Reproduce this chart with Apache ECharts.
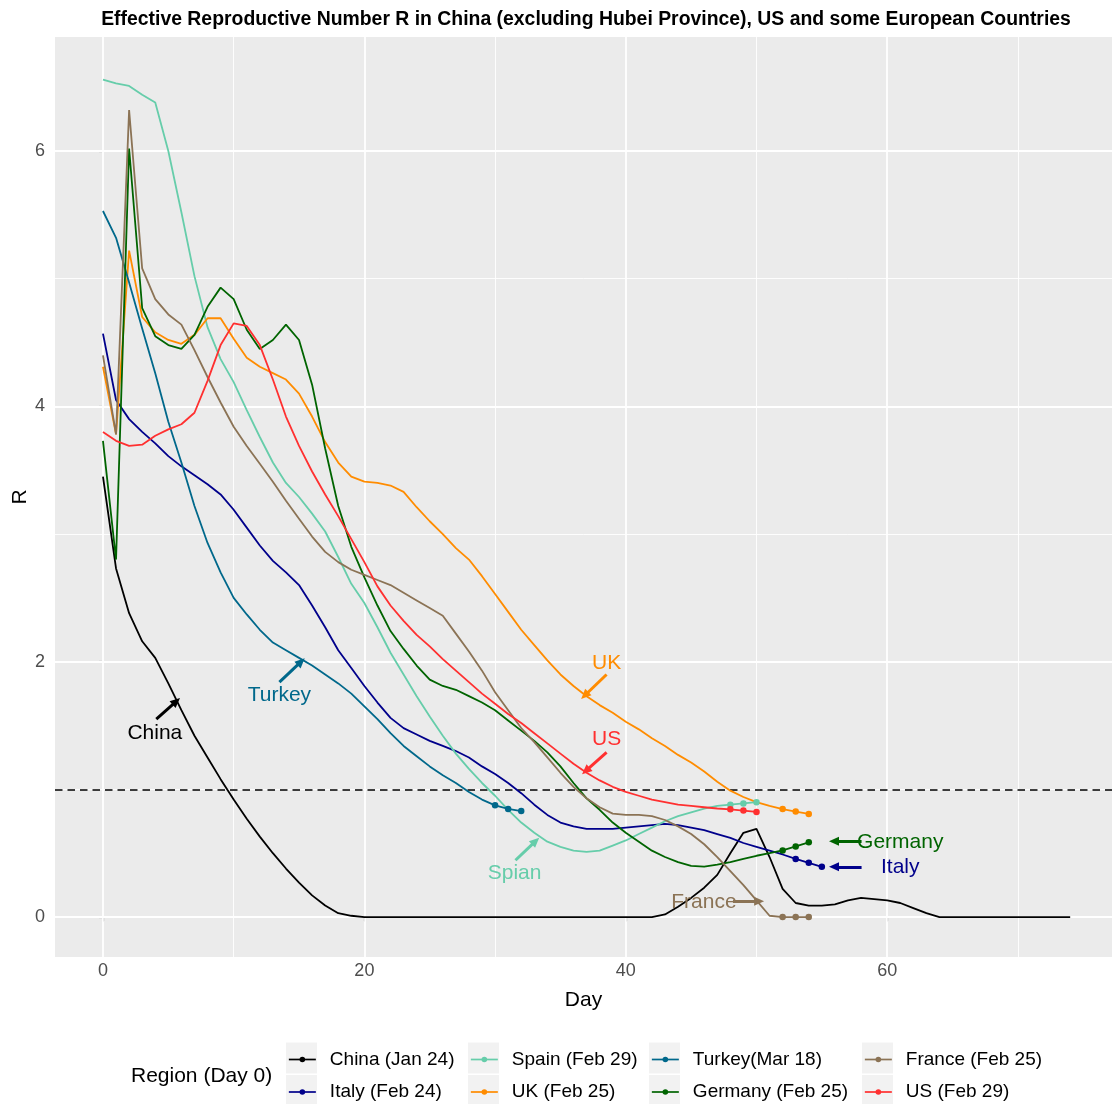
<!DOCTYPE html>
<html><head><meta charset="utf-8">
<script src="https://cdn.jsdelivr.net/npm/echarts@6/dist/echarts.min.js"></script>
<style>html,body{margin:0;padding:0;background:#fff}#c{width:1112px;height:1104px}</style>
</head><body><div id="c"></div><script>
// ---- data (index = Day) ----
const china = [3.45,2.73,2.38,2.16,2.03,1.83,1.62,1.42,1.25,1.08,
  0.92,0.77,0.63,0.50,0.38,0.27,0.17,0.09,0.03,0.01,
  0,0,0,0,0,0,0,0,0,0,
  0,0,0,0,0,0,0,0,0,0,
  0,0,0,0.02,0.08,0.15,0.23,0.33,0.50,0.66,
  0.69,0.47,0.22,0.11,0.09,0.09,0.10,0.13,0.15,0.14,
  0.13,0.11,0.07,0.03,0,0,0,0,0,0,
  0,0,0,0,0];
const italy = [4.57,4.05,3.90,3.80,3.71,3.61,3.53,3.46,3.39,3.31,
  3.19,3.05,2.91,2.79,2.70,2.60,2.44,2.27,2.09,1.95,
  1.81,1.68,1.56,1.48,1.43,1.38,1.34,1.30,1.25,1.18,
  1.12,1.05,0.97,0.88,0.80,0.74,0.71,0.69,0.69,0.69,
  0.70,0.71,0.72,0.73,0.72,0.70,0.68,0.65,0.62,0.58,
  0.55,0.52,0.49,0.455,0.425,0.393];
const spain = [6.56,6.53,6.51,6.44,6.38,6.00,5.52,5.02,4.62,4.37,
  4.19,3.97,3.76,3.56,3.40,3.29,3.16,3.02,2.82,2.61,
  2.46,2.27,2.07,1.90,1.73,1.57,1.42,1.28,1.16,1.05,
  0.95,0.84,0.74,0.66,0.59,0.55,0.52,0.51,0.52,0.56,
  0.60,0.65,0.70,0.75,0.79,0.82,0.85,0.87,0.88,0.89,0.90];
const uk = [4.31,3.78,5.22,4.70,4.58,4.52,4.49,4.56,4.69,4.69,
  4.53,4.38,4.31,4.26,4.21,4.10,3.92,3.72,3.56,3.45,
  3.41,3.40,3.38,3.33,3.21,3.10,3.00,2.89,2.80,2.67,
  2.53,2.39,2.25,2.13,2.01,1.90,1.81,1.73,1.66,1.60,
  1.53,1.47,1.40,1.34,1.27,1.21,1.14,1.06,0.99,0.94,
  0.90,0.87,0.846,0.826,0.808];
const turkey = [5.53,5.32,4.97,4.61,4.26,3.88,3.56,3.22,2.93,2.70,
  2.50,2.37,2.25,2.15,2.09,2.03,1.97,1.90,1.83,1.75,
  1.65,1.55,1.44,1.34,1.26,1.18,1.11,1.05,0.98,0.92,
  0.875,0.847,0.83];
const germany = [3.73,2.80,6.02,4.77,4.55,4.48,4.45,4.56,4.78,4.93,
  4.84,4.60,4.45,4.52,4.64,4.52,4.17,3.67,3.22,2.90,
  2.66,2.44,2.24,2.10,1.97,1.86,1.81,1.78,1.73,1.68,
  1.62,1.54,1.46,1.38,1.29,1.18,1.05,0.93,0.84,0.74,
  0.66,0.59,0.52,0.47,0.43,0.40,0.395,0.41,0.43,0.455,
  0.48,0.50,0.522,0.553,0.585];
const france = [4.40,3.78,6.32,5.08,4.84,4.72,4.64,4.44,4.23,4.03,
  3.84,3.69,3.55,3.41,3.26,3.12,2.98,2.86,2.78,2.72,
  2.68,2.64,2.60,2.54,2.48,2.42,2.36,2.22,2.08,1.93,
  1.76,1.62,1.48,1.37,1.25,1.13,1.02,0.93,0.86,0.81,
  0.80,0.80,0.79,0.76,0.71,0.65,0.57,0.47,0.36,0.25,
  0.13,0.01,0,0,0];
const us = [3.80,3.73,3.69,3.70,3.77,3.82,3.86,3.95,4.20,4.48,
  4.65,4.63,4.48,4.21,3.92,3.69,3.49,3.31,3.14,2.96,
  2.78,2.59,2.44,2.32,2.21,2.12,2.02,1.93,1.84,1.75,
  1.67,1.59,1.52,1.44,1.36,1.28,1.20,1.13,1.07,1.02,
  0.98,0.95,0.92,0.90,0.88,0.87,0.86,0.85,0.844,0.834,0.823];

const seriesNames = ['China (Jan 24)','Italy (Feb 24)','Spain (Feb 29)','UK (Feb 25)',
  'Turkey(Mar 18)','Germany (Feb 25)','France (Feb 25)','US (Feb 29)'];
const seriesValues = [china, italy, spain, uk, turkey, germany, france, us];
const seriesColors = ['#000000','#00008B','#66CDAA','#FF8C00','#00688B','#006400','#8B7355','#FF3030'];
const dotCounts = [0,3,3,3,3,3,3,3];

const xTicks = [0,20,40,60];
const xMinor = [10,30,50,70];
const yTicks = [0,2,4,6];
const yMinor = [1,3,5];
const threshold = 1;

// annotations: [text, textX, textY, arrowFromX, arrowFromY, arrowToX, arrowToY, color]
const annotations = [
  ['China', 3.97, 1.44, 4.08, 1.55, 5.61, 1.69, '#000000'],
  ['Turkey', 13.5, 1.74, 13.5, 1.84, 15.16, 2.00, '#00688B'],
  ['UK', 38.53, 1.99, 38.53, 1.90, 36.86, 1.735, '#FF8C00'],
  ['US', 38.53, 1.39, 38.53, 1.29, 36.94, 1.145, '#FF3030'],
  ['Spian', 31.49, 0.346, 31.56, 0.445, 33.1, 0.595, '#66CDAA'],
  ['France', 45.98, 0.12, 48.2, 0.123, 50.2, 0.123, '#8B7355'],
  ['Germany', 61.0, 0.586, 58.04, 0.594, 55.93, 0.594, '#006400'],
  ['Italy', 61.0, 0.39, 58.04, 0.393, 55.93, 0.393, '#00008B']
];

const FONT = '"Liberation Sans", Arial, Helvetica, sans-serif';

const chart = echarts.init(document.getElementById('c'), null, {renderer:'canvas'});

const series = [];
// gridlines
const gridLines = [];
xTicks.forEach(v => gridLines.push({xAxis: v, lineStyle:{color:'#fff', width:1.8, type:'solid'}}));
xMinor.forEach(v => gridLines.push({xAxis: v, lineStyle:{color:'#fff', width:0.9, type:'solid'}}));
yTicks.forEach(v => gridLines.push({yAxis: v, lineStyle:{color:'#fff', width:1.8, type:'solid'}}));
yMinor.forEach(v => gridLines.push({yAxis: v, lineStyle:{color:'#fff', width:0.9, type:'solid'}}));
series.push({
  name:'_grid', type:'line', data:[], z:1, silent:true,
  markLine:{silent:true, z:1, symbol:['none','none'], label:{show:false}, animation:false,
    emphasis:{disabled:true}, data: gridLines}
});
series.push({
  name:'_thr', type:'line', data:[], z:1, silent:true,
  markLine:{silent:true, z:1.5, symbol:['none','none'], label:{show:false}, animation:false,
    emphasis:{disabled:true},
    data:[{yAxis: threshold, lineStyle:{color:'#000', width:1.5, type:[7.5,5]}}]}
});

seriesNames.forEach((name, i) => {
  const vals = seriesValues[i];
  const n = vals.length;
  const data = vals.map((v, d) => {
    const dot = d >= n - dotCounts[i];
    return dot ? {value:[d, v]} : {value:[d, v], symbol:'none'};
  });
  series.push({
    name, type:'line', data, z:3,
    symbol:'circle', symbolSize:6.5, showSymbol:true, showAllSymbol:true,
    lineStyle:{color: seriesColors[i], width:1.8},
    itemStyle:{color: seriesColors[i]},
    emphasis:{disabled:true}, silent:true, animation:false
  });
});

// annotation arrows
series.push({
  name:'_arrows', type:'line', data:[], z:4, silent:true,
  markLine:{silent:true, z:4, symbol:['none','triangle'], symbolSize:[9,10], label:{show:false},
    animation:false, emphasis:{disabled:true},
    data: annotations.map(a => [
      {coord:[a[3], a[4]], lineStyle:{color:a[7], width:3, type:'solid'}},
      {coord:[a[5], a[6]]}
    ])}
});
// annotation labels
series.push({
  name:'_labels', type:'scatter', z:5, silent:true, symbolSize:1,
  itemStyle:{color:'rgba(0,0,0,0)'}, animation:false, emphasis:{disabled:true},
  data: annotations.map(a => ({value:[a[1], a[2]],
    label:{show:true, position:'inside', formatter:a[0], color:a[7], fontSize:21, fontFamily:FONT,
      textBorderWidth:0, textBorderColor:'rgba(0,0,0,0)', opacity:1}}))
});

// legends
const legendCols = [286, 468, 649, 862];
const legendRowCenters = [1058, 1090.5];
const legendSlots = [[0,0],[0,1],[1,0],[1,1],[2,0],[2,1],[3,0],[3,1]];
const legends = seriesNames.map((name, i) => {
  const [c, r] = legendSlots[i];
  return {
    show:true, left: legendCols[c] + 2, top: legendRowCenters[r] - 9.5, padding:0,
    itemWidth:27, itemHeight:7, itemGap:0, selectedMode:false,
    data:[name], lineStyle:{width:1.7},
    textStyle:{fontSize:19, color:'#000', fontFamily:FONT, lineHeight:22, padding:[0,0,0,9]}
  };
});

const graphics = [];
legendSlots.forEach(([c, r]) => {
  graphics.push({type:'rect', z:0, silent:true,
    shape:{x: legendCols[c], y: legendRowCenters[r] - 15.5, width:31, height:31},
    style:{fill:'#F2F2F2'}});
});
graphics.push({type:'text', left:131, top:1066, silent:true,
  style:{text:'Region (Day 0)', fontSize:21, fontFamily:FONT, fill:'#000'}});

chart.setOption({
  animation:false,
  backgroundColor:'#ffffff',
  title:{text:'Effective Reproductive Number R in China (excluding Hubei Province), US and some European Countries',
    left:581, top:5, textAlign:'center',
    textStyle:{fontSize:19.4, fontWeight:'bold', color:'#000', fontFamily:FONT}},
  grid:{left:55, top:37, width:1057, height:920, show:true, backgroundColor:'#EBEBEB', borderWidth:0,
    containLabel:false, outerBoundsMode:'none'},
  xAxis:{type:'value', min:-3.67, max:77.2,
    axisLine:{show:false},
    axisTick:{show:true, customValues:xTicks, length:4.5, lineStyle:{color:'#333333', width:1.1}},
    axisLabel:{show:true, customValues:xTicks, color:'#4D4D4D', fontSize:18, fontFamily:FONT, margin:5},
    splitLine:{show:false}, minorSplitLine:{show:false},
    name:'Day', nameLocation:'middle', nameGap:33, nameMoveOverlap:false,
    nameTextStyle:{fontSize:21, color:'#000', fontFamily:FONT}},
  yAxis:{type:'value', min:-0.313, max:6.893,
    axisLine:{show:false},
    axisTick:{show:true, customValues:yTicks, length:4.5, lineStyle:{color:'#333333', width:1.1}},
    axisLabel:{show:true, customValues:yTicks, color:'#4D4D4D', fontSize:18, fontFamily:FONT, margin:10},
    splitLine:{show:false}, minorSplitLine:{show:false},
    name:'R', nameLocation:'middle', nameGap:24, nameRotate:90, nameMoveOverlap:false,
    nameTextStyle:{fontSize:21, color:'#000', fontFamily:FONT}},
  legend: legends,
  graphic: graphics,
  series
});
</script></body></html>
